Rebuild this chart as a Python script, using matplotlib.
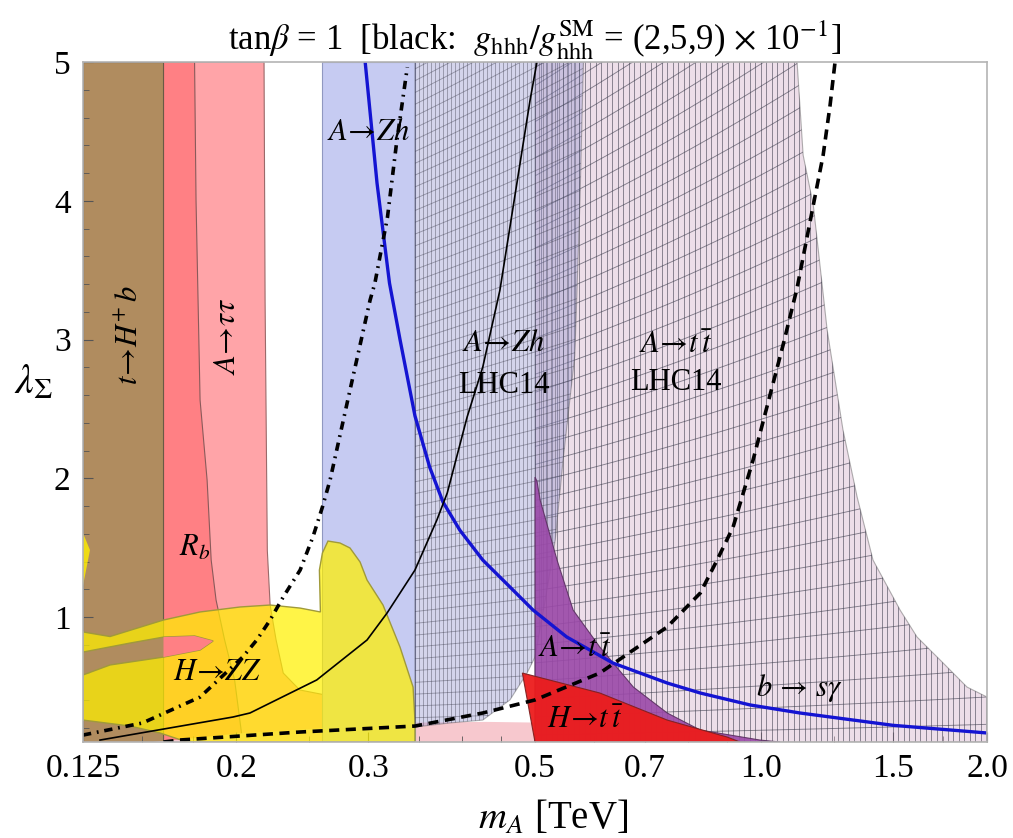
import numpy as np
import matplotlib
matplotlib.use("Agg")
import matplotlib.pyplot as plt
from matplotlib.patches import Polygon
from matplotlib.collections import LineCollection
from matplotlib.ticker import FixedLocator, FixedFormatter, NullFormatter

plt.rcParams["font.family"] = "serif"
plt.rcParams["font.serif"] = ["Liberation Serif", "DejaVu Serif"]
plt.rcParams["mathtext.fontset"] = "stix"

# exclusion regions in the (m_A [TeV], lambda_Sigma) plane
tHb_x = [0.125, 0.160, 0.160, 0.125]
tHb_y = [0.1, 0.1, 5.0, 5.0]

Atautau_x = [0.160, 0.2178, 0.2185, 0.2200, 0.2219, 0.226, 0.231, 0.243, 0.284, 0.346, 0.346, 0.160]
Atautau_y = [5.0, 5.0, 3.28, 1.48, 1.087, 0.835, 0.597, 0.475, 0.403, 0.367, 0.1, 0.1]

Rb_x = [0.160, 0.176, 0.1768, 0.179, 0.1829, 0.1852, 0.188, 0.193, 0.199, 0.204, 0.160]
Rb_y = [5.0, 5.0, 4.0, 2.564, 1.988, 1.411, 1.123, 0.835, 0.547, 0.1, 0.1]

strip_x = [0.155, 0.17, 0.20, 0.30, 0.35, 0.43, 0.50, 0.50]
strip_y = [0.1, 0.12, 0.16, 0.22, 0.24, 0.245, 0.24, 0.1]

AZh_x = [0.260, 0.346, 0.346, 0.260]
AZh_y = [0.1, 0.1, 5.0, 5.0]

HZZ_x = [0.125, 0.1358, 0.160, 0.179, 0.2024, 0.2219, 0.2433, 0.2589, 0.2581, 0.2605,
         0.265, 0.2749, 0.2835, 0.2924, 0.2987, 0.3137, 0.3305, 0.344, 0.346, 0.346,
         0.172, 0.1583, 0.1444, 0.125]
HZZ_y = [0.893, 0.86, 0.979, 1.037, 1.073, 1.087, 1.065, 1.037, 1.339, 1.462,
         1.548, 1.534, 1.498, 1.397, 1.267, 1.087, 0.784, 0.496, 0.258, 0.1,
         0.1, 0.165, 0.215, 0.258]
HZZ_hole_x = [0.125, 0.1444, 0.160, 0.176, 0.1863, 0.179, 0.160, 0.1358, 0.125]
HZZ_hole_y = [0.748, 0.813, 0.856, 0.864, 0.828, 0.763, 0.712, 0.655, 0.583]
HZZ_bit_x = [0.125, 0.1277, 0.125]
HZZ_bit_y = [1.606, 1.483, 1.225]

AZh14_x = [0.346, 0.346, 0.580, 0.574, 0.565, 0.545, 0.532, 0.516, 0.500, 0.488,
           0.463, 0.426, 0.385]
AZh14_y = [0.208, 5.0, 5.0, 4.005, 2.888, 2.132, 1.555, 1.123, 0.712, 0.597,
           0.403, 0.258, 0.237]

Att14_x = [0.5, 0.5, 1.117, 1.138, 1.174, 1.225, 1.286, 1.343, 1.410, 1.532,
           1.614, 1.732, 1.881, 2.0, 2.0]
Att14_y = [0.1, 5.0, 5.0, 4.329, 3.969, 3.068, 2.348, 1.865, 1.411, 1.051,
           0.856, 0.691, 0.496, 0.424, 0.1]

Att_x = [0.5, 0.503, 0.508, 0.535, 0.562, 0.610, 0.676, 0.750, 0.830, 0.997, 1.06, 0.5]
Att_y = [2.009, 1.98, 1.843, 1.411, 1.051, 0.784, 0.496, 0.309, 0.186, 0.114, 0.1, 0.1]

Htt_x = [0.481, 0.610, 0.750, 0.901, 0.938, 0.5]
Htt_y = [0.597, 0.453, 0.258, 0.136, 0.1, 0.1]

# trilinear coupling contours and b -> s gamma bound
bsg_x = [0.297, 0.308, 0.320, 0.3305, 0.346, 0.362, 0.377, 0.397, 0.426, 0.463,
         0.497, 0.551, 0.635, 0.750, 0.830, 0.967, 1.127, 1.5, 2.0]
bsg_y = [5.0, 4.127, 3.407, 3.0, 2.45, 2.08, 1.83, 1.627, 1.411, 1.217,
         1.051, 0.857, 0.669, 0.525, 0.453, 0.367, 0.309, 0.22, 0.165]

g2_x = [0.1317, 0.198, 0.2086, 0.256, 0.2987, 0.3176, 0.346, 0.370, 0.382, 0.406,
        0.426, 0.449, 0.473, 0.4925, 0.503]
g2_y = [0.114, 0.28, 0.309, 0.547, 0.835, 1.029, 1.339, 1.699, 1.894, 2.441,
        2.802, 3.356, 4.127, 4.725, 5.0]

g5_x = [0.125, 0.150, 0.179, 0.204, 0.213, 0.2219, 0.231, 0.2433, 0.253, 0.2605,
        0.2667, 0.2835, 0.3015, 0.306, 0.318, 0.327, 0.338]
g5_y = [0.150, 0.237, 0.424, 0.712, 0.835, 0.979, 1.145, 1.339, 1.577, 1.793,
        1.988, 2.636, 3.284, 3.407, 3.88, 4.416, 4.963]

g9_x = [0.160, 0.168, 0.2433, 0.346, 0.426, 0.5, 0.610, 0.676, 0.750, 0.830,
        0.874, 0.918, 0.976, 1.070, 1.117, 1.151, 1.174, 1.210, 1.236, 1.255]
g9_y = [0.1, 0.114, 0.172, 0.215, 0.309, 0.403, 0.597, 0.763, 0.929, 1.173,
        1.411, 1.649, 2.132, 2.960, 3.371, 3.731, 3.969, 4.329, 4.689, 5.0]

x_ticks = [0.125, 0.2, 0.3, 0.5, 0.7, 1.0, 1.5, 2.0]
x_ticklabels = ["0.125", "0.2", "0.3", "0.5", "0.7", "1.0", "1.5", "2.0"]
x_minor = [0.15, 0.175, 0.25, 0.35, 0.4, 0.45, 0.6, 0.8, 0.9, 1.25, 1.75]
y_ticks = [1, 2, 3, 4, 5]

fig = plt.figure(figsize=(10.13, 8.38), dpi=100)
ax = fig.add_axes([83 / 1013, 1 - 742 / 838, 904 / 1013, 680 / 838])
ax.set_xscale("log")
ax.set_xlim(0.125, 2.0)
ax.set_ylim(0.1, 5.0)


def region(xs, ys, color, z, alpha=1.0, edge="#6e6e6e", lw=0.8):
    p = Polygon(np.column_stack([xs, ys]), closed=True, facecolor=color, alpha=alpha,
                edgecolor=edge, linewidth=lw, zorder=z)
    ax.add_patch(p)
    return p


def mesh(patch, x0, x1, dlnx, expo, step, z, alpha):
    # Mathematica-style mesh: lines of constant m_A plus tilted curves
    segs = []
    for lx in np.arange(np.log(x0), np.log(x1), dlnx):
        segs.append([(np.exp(lx), 0.05), (np.exp(lx), 5.5)])
    xs = np.geomspace(x0, x1, 60)
    for c in np.arange(0.02, 5.3, step):
        segs.append(np.column_stack([xs, c * (xs / x0) ** expo]))
    lc = LineCollection(segs, colors="#3c3c4c", linewidths=0.65, alpha=alpha, zorder=z)
    ax.add_collection(lc)
    lc.set_clip_path(patch)


region(Atautau_x, Atautau_y, "#ffa4a8", 1, edge="#9a6a6a")
region(Rb_x, Rb_y, "#ff8084", 1.1, edge="#8a5a5a")
region(tHb_x, tHb_y, "#b08c5f", 1.2, edge="#6a5a45")
region(strip_x, strip_y, "#f7c8ce", 1.3, edge="none")
region(AZh_x, AZh_y, "#c6cbf2", 1.4, edge="#9098c0")

region(HZZ_x, HZZ_y, "#fff000", 2, alpha=0.72, edge="none")
region(HZZ_bit_x, HZZ_bit_y, "#fff000", 2, alpha=0.8, edge="none")
region(HZZ_x, HZZ_y, "none", 2.1, edge="#a09a3a", lw=1.0)
# hole of the H -> ZZ region
region(HZZ_hole_x, HZZ_hole_y, "#b08c5f", 2.2, edge="#a09a3a", lw=1.0)
Rb_hole = region(HZZ_hole_x, HZZ_hole_y, "#ff8084", 2.2, edge="none")
Rb_hole.set_clip_path(region(Rb_x, Rb_y, "none", 0, edge="none"))

p_att14 = region(Att14_x, Att14_y, "#d9b6cf", 3, alpha=0.45, edge="#555555")
mesh(p_att14, 0.5, 2.0, 5.5 / 326, 0.3, 0.13, 3.1, 0.6)
p_azh14 = region(AZh14_x, AZh14_y, "#9a9ad0", 3.2, alpha=0.42, edge="#555555")
mesh(p_azh14, 0.346, 0.58, 4.0 / 326, 0.25, 0.085, 3.3, 0.42)

region(Att_x, Att_y, "#9a48a8", 4, alpha=0.9, edge="#5a3060")
region(Htt_x, Htt_y, "#ec1c1c", 4.1, alpha=0.95, edge="#802020")

ax.plot(bsg_x, bsg_y, color="#1414d2", lw=2.4, zorder=6)
ax.plot(g2_x, g2_y, color="black", lw=1.2, zorder=6)
ax.plot(g5_x, g5_y, color="black", lw=2.6, linestyle=(0, (2.3, 1.6, 0.5, 1.6)), zorder=6)
ax.plot(g9_x, g9_y, color="black", lw=2.6, linestyle=(0, (2.8, 1.8)), zorder=6)

fs = 22
ax.text(0.1444, 3.03, r"$t\!\rightarrow\! H^{+}\, b$", rotation=90, fontsize=fs,
        ha="center", va="center", zorder=7)
ax.text(0.195, 3.02, r"$A\!\rightarrow\!\tau\tau$", rotation=90, fontsize=fs,
        ha="center", va="center", zorder=7)
ax.text(0.176, 1.498, r"$R_b$", fontsize=fs, ha="center", va="center", zorder=7)
ax.text(0.3005, 4.495, r"$A\!\rightarrow\! Zh$", fontsize=fs, ha="center", va="center", zorder=7)
ax.text(0.4546, 2.975, r"$A\!\rightarrow\! Zh$", fontsize=fs, ha="center", va="center", zorder=7)
ax.text(0.4546, 2.672, "LHC14", fontsize=fs, ha="center", va="center", zorder=7)
ax.text(0.770, 2.96, r"$A\!\rightarrow\! t\,\bar{t}$", fontsize=fs, ha="center", va="center", zorder=7)
ax.text(0.770, 2.694, "LHC14", fontsize=fs, ha="center", va="center", zorder=7)
ax.text(0.189, 0.604, r"$H\!\rightarrow\! ZZ$", fontsize=fs, ha="center", va="center", zorder=7)
ax.text(0.565, 0.763, r"$A\!\rightarrow\! t\,\bar{t}$", fontsize=fs, ha="center", va="center", zorder=7)
ax.text(0.583, 0.258, r"$H\!\rightarrow\! t\,\bar{t}$", fontsize=fs, ha="center", va="center", zorder=7)
ax.text(1.125, 0.489, r"$b\,\rightarrow\, s\gamma$", fontsize=fs, ha="center", va="center", zorder=7)

ax.xaxis.set_major_locator(FixedLocator(x_ticks))
ax.xaxis.set_major_formatter(FixedFormatter(x_ticklabels))
ax.xaxis.set_minor_locator(FixedLocator(x_minor))
ax.xaxis.set_minor_formatter(NullFormatter())
ax.yaxis.set_major_locator(FixedLocator(y_ticks))
ax.yaxis.set_minor_locator(FixedLocator(np.arange(0.2, 5.0, 0.2)))
ax.tick_params(which="both", direction="in", colors="#555555", labelcolor="black",
               labelsize=24, top=False, right=False)
ax.tick_params(which="major", length=7, width=0.8)
ax.tick_params(which="minor", length=4, width=0.6)
ax.tick_params(axis="x", pad=8)
ax.tick_params(axis="y", pad=9)
for s in ax.spines.values():
    s.set_color("#b4b4b4")
    s.set_linewidth(1.2)
    s.set_zorder(8)

ax.set_xlabel(r"$m_A$ [TeV]", fontsize=28, labelpad=8)
ax.xaxis.set_label_coords(0.52, -0.085)
ax.set_ylabel(r"$\lambda_\Sigma$", fontsize=30, rotation=0, labelpad=18)
ax.yaxis.set_label_coords(-0.055, 0.5)
ax.set_title(r"tan$\beta$ = 1  [black:  $g_{\rm hhh}/g_{\rm hhh}^{\rm SM}$ = (2,5,9) $\times$ 10$^{-1}$]",
             fontsize=25, pad=8)

fig.savefig("out.png", dpi=100)
